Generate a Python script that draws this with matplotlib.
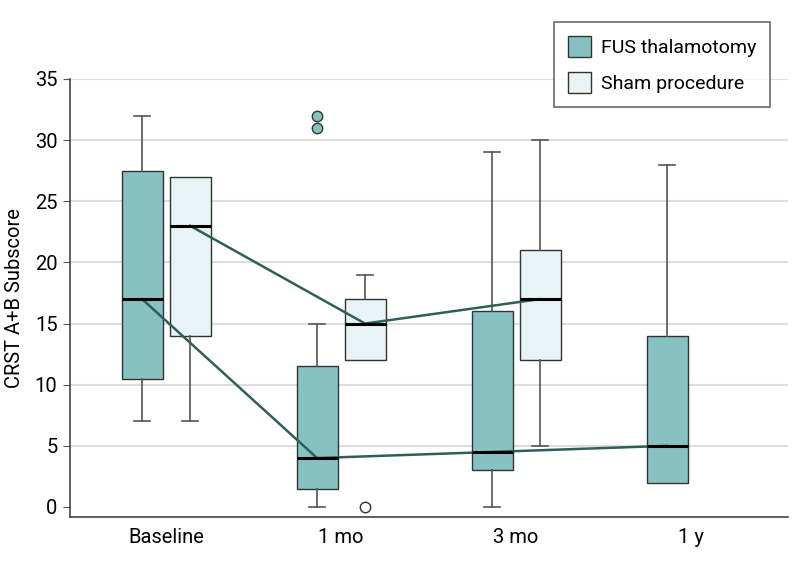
import matplotlib.pyplot as plt
from matplotlib.patches import Patch

plt.rcParams['font.family'] = ['Roboto', 'DejaVu Sans']

# Datos
categorias = ["Baseline", "1 mo", "3 mo", "1 y"]

fus_med = [17, 4, 4.5, 5]
fus_q1 = [10.5, 1.5, 3, 2]
fus_q3 = [27.5, 11.5, 16, 14]
fus_lo = [7, 0, 0, 2]
fus_hi = [32, 15, 29, 28]
fus_out = [[], [31, 32], [], []]

sham_med = [23, 15, 17]
sham_q1 = [14, 12, 12]
sham_q3 = [27, 17, 21]
sham_lo = [7, 12, 5]
sham_hi = [27, 19, 30]
sham_out = [[], [0], []]

color_fus = "#86c2c1"
color_sham = "#e8f3f5"
color_linea = "#2f5f5a"
offset = 0.137
ancho = 0.234


def stats(med, q1, q3, lo, hi, out):
    return [dict(med=m, q1=a, q3=b, whislo=l, whishi=h, fliers=o)
            for m, a, b, l, h, o in zip(med, q1, q3, lo, hi, out)]


def quitar_caps(res, q1, q3, lo, hi):
    # sin tapa cuando el bigote coincide con la caja
    for i in range(len(q1)):
        if lo[i] == q1[i]:
            res["caps"][2 * i].set_visible(False)
        if hi[i] == q3[i]:
            res["caps"][2 * i + 1].set_visible(False)


fig = plt.figure(figsize=(7.98, 5.64), dpi=100)
ax = fig.add_axes([70 / 798, 47 / 564, 718 / 798, 438 / 564])

pos_fus = [i - offset for i in range(len(fus_med))]
pos_sham = [i + offset for i in range(len(sham_med))]

comunes = dict(patch_artist=True, widths=ancho, capwidths=0.095,
               whiskerprops=dict(color="#555555", lw=1.2),
               capprops=dict(color="#555555", lw=1.2),
               medianprops=dict(color="black", lw=2.2, zorder=5))

r1 = ax.bxp(stats(fus_med, fus_q1, fus_q3, fus_lo, fus_hi, fus_out), positions=pos_fus,
            boxprops=dict(facecolor=color_fus, edgecolor="#333333", lw=1),
            flierprops=dict(marker="o", markerfacecolor=color_fus, markeredgecolor="#333333",
                            markersize=7.5, markeredgewidth=1),
            **comunes)
r2 = ax.bxp(stats(sham_med, sham_q1, sham_q3, sham_lo, sham_hi, sham_out), positions=pos_sham,
            boxprops=dict(facecolor=color_sham, edgecolor="#333333", lw=1),
            flierprops=dict(marker="o", markerfacecolor="white", markeredgecolor="#333333",
                            markersize=7.5, markeredgewidth=1),
            **comunes)
quitar_caps(r1, fus_q1, fus_q3, fus_lo, fus_hi)
quitar_caps(r2, sham_q1, sham_q3, sham_lo, sham_hi)

# Lineas que unen las medianas
ax.plot(pos_fus, fus_med, color=color_linea, lw=1.8, zorder=4)
ax.plot(pos_sham, sham_med, color=color_linea, lw=1.8, zorder=4)

ax.set_xlim(-0.549, 3.554)
ax.set_ylim(-0.82, 35)
ax.set_yticks(range(0, 36, 5))
ax.set_xticks(range(len(categorias)))
ax.set_xticklabels(categorias, fontsize=14.5)
ax.tick_params(axis="x", length=0, pad=8)
ax.tick_params(axis="y", labelsize=14.5, length=5, color="#555555", pad=4)
ax.set_ylabel("CRST A+B Subscore", fontsize=14.5, labelpad=8)

ax.grid(axis="y", color="#dddddd", lw=1.5, zorder=0)
ax.get_ygridlines()[0].set_visible(False)
ax.set_axisbelow(True)
for lado in ["top", "right"]:
    ax.spines[lado].set_visible(False)
for lado in ["left", "bottom"]:
    ax.spines[lado].set_color("#444444")
    ax.spines[lado].set_linewidth(1.2)

handles = [Patch(facecolor=color_fus, edgecolor="#333333", label="FUS thalamotomy"),
           Patch(facecolor=color_sham, edgecolor="#333333", label="Sham procedure")]
leg = fig.legend(handles=handles, loc="upper left", bbox_to_anchor=(554 / 798, 1 - 22 / 564),
                 fontsize=14, frameon=True, fancybox=False, handlelength=1.2,
                 handleheight=1.25, borderaxespad=0, borderpad=0.72, labelspacing=0.78,
                 handletextpad=0.5)
leg.get_frame().set_edgecolor("#444444")
leg.get_frame().set_linewidth(1.2)

plt.savefig("out.png", dpi=100)
